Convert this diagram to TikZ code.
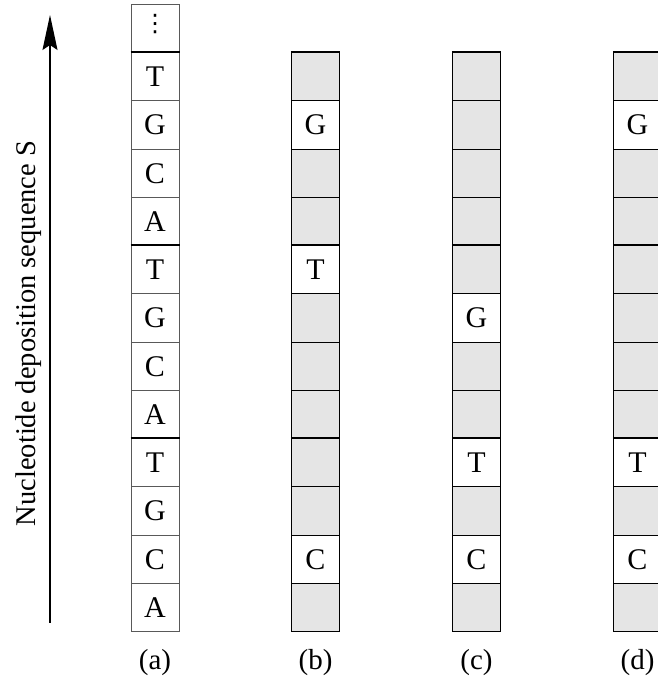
\documentclass[tikz,border=0pt]{standalone}
\usepackage{fontspec}
\setmainfont{Liberation Serif}
\newfontfamily\symfont{DejaVu Sans}
\usetikzlibrary{arrows.meta}
\tikzset{
  cellbase/.style={minimum width=48pt, minimum height=48.25pt, inner sep=0pt,
    font=\fontsize{30}{35}\selectfont, text height=19.5pt, text depth=0pt},
  seqcell/.style={cellbase, draw=black!65, line width=1pt, fill=white},
  hitcell/.style={cellbase, draw=black, line width=1.1pt, fill=white},
  misscell/.style={cellbase, draw=black, line width=1.1pt, fill=black!10},
  sepline/.style={line width=2.6pt},
  lab/.style={font=\fontsize{29}{34}\selectfont, inner sep=0pt, anchor=base},
  axisarrow/.style={line width=1.3pt, -{Stealth[length=35pt,width=15pt,inset=5pt]}}
}
\newcommand{\mycell}[5]{\node[#1] (#2) at (#3, {604.2-48.25*#4}) {#5};}
\begin{document}
\begin{tikzpicture}[x=1pt,y=1pt]
\useasboundingbox (0,0) rectangle (657,681);

% axis arrow and label
\coordinate (arrS) at (50,58);
\coordinate (arrE) at (50,666);
\draw[axisarrow] (arrS) -- (arrE);
\node[lab, rotate=90] (axlab) at (35,347.5) {\fontsize{28.5}{34}\selectfont Nucleotide deposition sequence S};

% column (a)
\node[seqcell] (adots) at (155,652.3) {};
\node[inner sep=0pt, font=\symfont\fontsize{24}{28}\selectfont] (dots) at (155,657) {⋮};
\mycell{seqcell}{a0}{155}{0}{T}
\mycell{seqcell}{a1}{155}{1}{G}
\mycell{seqcell}{a2}{155}{2}{C}
\mycell{seqcell}{a3}{155}{3}{A}
\mycell{seqcell}{a4}{155}{4}{T}
\mycell{seqcell}{a5}{155}{5}{G}
\mycell{seqcell}{a6}{155}{6}{C}
\mycell{seqcell}{a7}{155}{7}{A}
\mycell{seqcell}{a8}{155}{8}{T}
\mycell{seqcell}{a9}{155}{9}{G}
\mycell{seqcell}{a10}{155}{10}{C}
\mycell{seqcell}{a11}{155}{11}{A}

% column (b)
\mycell{misscell}{b0}{315.5}{0}{}
\mycell{hitcell}{b1}{315.5}{1}{G}
\mycell{misscell}{b2}{315.5}{2}{}
\mycell{misscell}{b3}{315.5}{3}{}
\mycell{hitcell}{b4}{315.5}{4}{T}
\mycell{misscell}{b5}{315.5}{5}{}
\mycell{misscell}{b6}{315.5}{6}{}
\mycell{misscell}{b7}{315.5}{7}{}
\mycell{misscell}{b8}{315.5}{8}{}
\mycell{misscell}{b9}{315.5}{9}{}
\mycell{hitcell}{b10}{315.5}{10}{C}
\mycell{misscell}{b11}{315.5}{11}{}

% column (c)
\mycell{misscell}{c0}{476.5}{0}{}
\mycell{misscell}{c1}{476.5}{1}{}
\mycell{misscell}{c2}{476.5}{2}{}
\mycell{misscell}{c3}{476.5}{3}{}
\mycell{misscell}{c4}{476.5}{4}{}
\mycell{hitcell}{c5}{476.5}{5}{G}
\mycell{misscell}{c6}{476.5}{6}{}
\mycell{misscell}{c7}{476.5}{7}{}
\mycell{hitcell}{c8}{476.5}{8}{T}
\mycell{misscell}{c9}{476.5}{9}{}
\mycell{hitcell}{c10}{476.5}{10}{C}
\mycell{misscell}{c11}{476.5}{11}{}

% column (d)
\mycell{misscell}{d0}{637.5}{0}{}
\mycell{hitcell}{d1}{637.5}{1}{G}
\mycell{misscell}{d2}{637.5}{2}{}
\mycell{misscell}{d3}{637.5}{3}{}
\mycell{misscell}{d4}{637.5}{4}{}
\mycell{misscell}{d5}{637.5}{5}{}
\mycell{misscell}{d6}{637.5}{6}{}
\mycell{misscell}{d7}{637.5}{7}{}
\mycell{hitcell}{d8}{637.5}{8}{T}
\mycell{misscell}{d9}{637.5}{9}{}
\mycell{hitcell}{d10}{637.5}{10}{C}
\mycell{misscell}{d11}{637.5}{11}{}

% period separators
\foreach \c in {a,b,c,d}{
  \draw[sepline] (\c0.north west) -- (\c0.north east);
  \draw[sepline] (\c4.north west) -- (\c4.north east);
  \draw[sepline] (\c8.north west) -- (\c8.north east);
}

% column labels
\node[lab] (la) at (155,11) {(a)};
\node[lab] (lb) at (315.5,11) {(b)};
\node[lab] (lc) at (476.5,11) {(c)};
\node[lab] (ld) at (637.5,11) {(d)};
\end{tikzpicture}
\end{document}
